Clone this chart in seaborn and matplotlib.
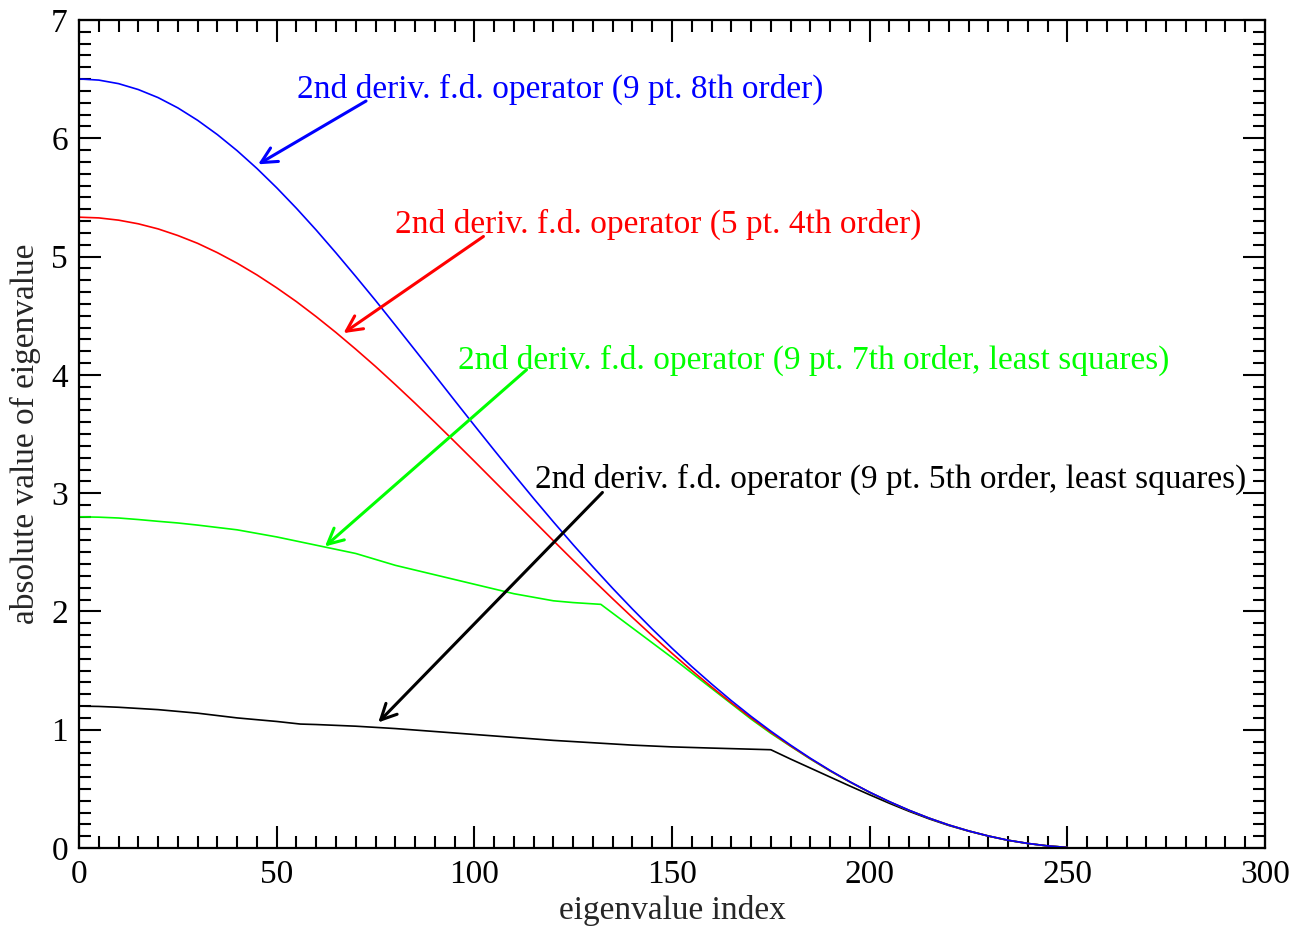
import matplotlib
matplotlib.use("Agg")
import matplotlib.pyplot as plt
from matplotlib.ticker import MultipleLocator
import seaborn as sns
import pandas as pd

# eigenvalue index grid and values
idx_main = [0, 5, 10, 15, 20, 25, 30, 35, 40, 45, 50, 55, 60, 65, 70, 75,
            80, 85, 90, 95, 100, 105, 110, 115, 120, 125, 130, 135, 140,
            145, 150, 155, 160, 165, 170, 175, 180, 185, 190, 195, 200,
            205, 210, 215, 220, 225, 230, 235, 240, 245, 250]
blue_vals = [6.502, 6.492, 6.462, 6.412, 6.344, 6.257, 6.152, 6.031, 5.895,
             5.745, 5.582, 5.408, 5.224, 5.031, 4.832, 4.629, 4.420, 4.209,
             3.997, 3.784, 3.573, 3.364, 3.158, 2.955, 2.757, 2.564, 2.377,
             2.195, 2.020, 1.851, 1.689, 1.534, 1.387, 1.246, 1.113, 0.988,
             0.870, 0.759, 0.656, 0.560, 0.472, 0.392, 0.319, 0.253, 0.195,
             0.145, 0.102, 0.066, 0.039, 0.018, 0.005]
red_vals = [5.333, 5.327, 5.308, 5.277, 5.234, 5.178, 5.112, 5.033, 4.944,
            4.845, 4.736, 4.619, 4.492, 4.358, 4.217, 4.071, 3.918, 3.761,
            3.600, 3.436, 3.270, 3.102, 2.934, 2.766, 2.598, 2.432, 2.268,
            2.107, 1.949, 1.795, 1.646, 1.501, 1.362, 1.228, 1.100, 0.978,
            0.863, 0.755, 0.653, 0.559, 0.471, 0.391, 0.318, 0.253, 0.195,
            0.145, 0.102, 0.066, 0.039, 0.018, 0.005]

idx_green = [0, 5, 10, 15, 20, 25, 30, 35, 40, 45, 50, 55, 60, 65, 70, 75,
             80, 85, 90, 95, 100, 105, 110, 115, 120, 125, 132, 140, 145,
             150, 155, 160, 165, 170, 175, 180, 185, 190, 195, 200, 205,
             210, 215, 220, 225, 230, 235, 240, 245, 250]
green_vals = [2.800, 2.797, 2.790, 2.777, 2.762, 2.748, 2.730, 2.710, 2.690,
              2.660, 2.630, 2.595, 2.560, 2.525, 2.490, 2.440, 2.390, 2.350,
              2.310, 2.270, 2.230, 2.190, 2.150, 2.120, 2.090, 2.075, 2.060,
              1.860, 1.735, 1.610, 1.480, 1.350, 1.220, 1.090, 0.970, 0.860,
              0.752, 0.651, 0.558, 0.470, 0.390, 0.318, 0.253, 0.195, 0.145,
              0.102, 0.066, 0.039, 0.018, 0.005]

idx_black = [0, 5, 10, 15, 20, 25, 30, 35, 40, 45, 50, 56, 60, 70, 80, 90,
             100, 110, 120, 130, 140, 150, 160, 175, 180, 185, 190, 195,
             200, 205, 210, 215, 220, 225, 230, 235, 240, 245, 250]
black_vals = [1.200, 1.197, 1.190, 1.180, 1.170, 1.155, 1.140, 1.120, 1.100,
              1.085, 1.070, 1.048, 1.044, 1.030, 1.010, 0.985, 0.960, 0.935,
              0.910, 0.890, 0.870, 0.855, 0.845, 0.831, 0.752, 0.676, 0.600,
              0.524, 0.450, 0.378, 0.310, 0.247, 0.191, 0.143, 0.101, 0.065,
              0.038, 0.018, 0.005]

labels = {
    "blue": "2nd deriv. f.d. operator (9 pt. 8th order)",
    "red": "2nd deriv. f.d. operator (5 pt. 4th order)",
    "green": "2nd deriv. f.d. operator (9 pt. 7th order, least squares)",
    "black": "2nd deriv. f.d. operator (9 pt. 5th order, least squares)",
}
colors = {"blue": "#0000ff", "red": "#ff0000", "green": "#00ff00", "black": "#000000"}

df = pd.concat([
    pd.DataFrame({"index": idx_main, "value": blue_vals, "op": "blue"}),
    pd.DataFrame({"index": idx_main, "value": red_vals, "op": "red"}),
    pd.DataFrame({"index": idx_green, "value": green_vals, "op": "green"}),
    pd.DataFrame({"index": idx_black, "value": black_vals, "op": "black"}),
])

sns.set_style("white")
plt.rcParams["font.family"] = ["Liberation Serif", "DejaVu Serif"]
plt.rcParams["font.size"] = 24

fig, ax = plt.subplots(figsize=(13.04, 9.26), dpi=100)
fig.subplots_adjust(left=0.0606, right=0.9701, top=0.9784, bottom=0.0842)

sns.lineplot(data=df, x="index", y="value", hue="op", palette=colors,
             hue_order=["black", "green", "red", "blue"],
             estimator=None, sort=False, lw=1.2, legend=False, ax=ax)

# annotations: (text pos, arrow start, arrow tip)
notes = {
    "blue": ((55.1, 6.41), (72.6, 6.315), (45.3, 5.78)),
    "red": ((79.9, 5.272), (102.3, 5.17), (66.9, 4.353)),
    "green": ((95.9, 4.122), (113.2, 4.043), (62.2, 2.549)),
    "black": ((115.4, 3.116), (132.4, 3.006), (75.7, 1.062)),
}
for key, (txt, start, tip) in notes.items():
    ax.text(txt[0], txt[1], labels[key], color=colors[key], fontsize=24,
            ha="left", va="center")
    ax.annotate("", xy=tip, xytext=start,
                arrowprops=dict(arrowstyle="->", color=colors[key], lw=2.2,
                                mutation_scale=28, shrinkA=0, shrinkB=0))

ax.set_xlim(0, 300)
ax.set_ylim(0, 7)
ax.xaxis.set_major_locator(MultipleLocator(50))
ax.xaxis.set_minor_locator(MultipleLocator(5))
ax.yaxis.set_major_locator(MultipleLocator(1))
ax.yaxis.set_minor_locator(MultipleLocator(0.1))
ax.tick_params(which="both", direction="in", top=True, right=True,
               bottom=True, left=True, width=1.5, colors="black",
               labelsize=24)
ax.tick_params(which="major", length=16, pad=8)
ax.tick_params(which="minor", length=8.5)
for sp in ax.spines.values():
    sp.set_linewidth(1.6)
    sp.set_color("black")

ax.set_xlabel("eigenvalue index", fontsize=24, labelpad=4)
ax.set_ylabel("absolute value of eigenvalue", fontsize=24, labelpad=7)

fig.savefig("out.png", dpi=100)
